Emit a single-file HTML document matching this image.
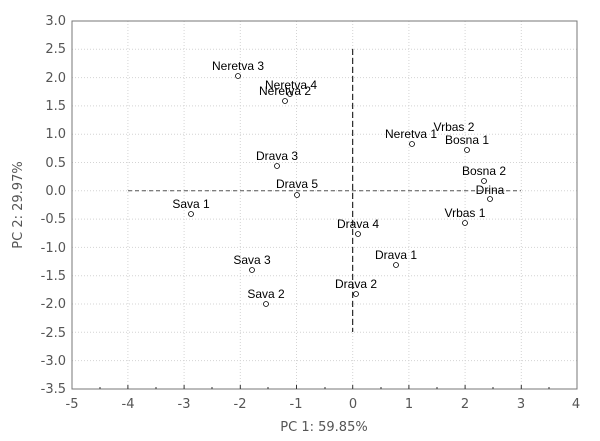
<!DOCTYPE html>
<html><head><meta charset="utf-8"><style>
body{margin:0;background:#fff}
svg{display:block}
.t{font-family:"DejaVu Sans","Liberation Sans",sans-serif;font-size:13px;fill:#555}
.l{font-family:"Liberation Sans",sans-serif;font-size:12px;fill:#000;text-anchor:middle}
</style></head><body>
<svg width="600" height="441" viewBox="0 0 600 441" xmlns="http://www.w3.org/2000/svg">
<g stroke="#d4d4d4" stroke-width="1" stroke-dasharray="1,2">
<line x1="127.9" y1="21" x2="127.9" y2="389"/><line x1="184.1" y1="21" x2="184.1" y2="389"/><line x1="240.3" y1="21" x2="240.3" y2="389"/><line x1="296.5" y1="21" x2="296.5" y2="389"/><line x1="352.7" y1="21" x2="352.7" y2="389"/><line x1="408.9" y1="21" x2="408.9" y2="389"/><line x1="465.1" y1="21" x2="465.1" y2="389"/><line x1="521.3" y1="21" x2="521.3" y2="389"/>
<line x1="72" y1="49.3" x2="577" y2="49.3"/><line x1="72" y1="77.6" x2="577" y2="77.6"/><line x1="72" y1="105.9" x2="577" y2="105.9"/><line x1="72" y1="134.2" x2="577" y2="134.2"/><line x1="72" y1="162.5" x2="577" y2="162.5"/><line x1="72" y1="190.8" x2="577" y2="190.8"/><line x1="72" y1="219.1" x2="577" y2="219.1"/><line x1="72" y1="247.4" x2="577" y2="247.4"/><line x1="72" y1="275.7" x2="577" y2="275.7"/><line x1="72" y1="304" x2="577" y2="304"/><line x1="72" y1="332.3" x2="577" y2="332.3"/><line x1="72" y1="360.6" x2="577" y2="360.6"/>
</g>
<rect x="72" y="21" width="505" height="368" fill="none" stroke="#777" stroke-width="1"/>
<g stroke="#333" stroke-width="1">
<line x1="127.9" y1="389" x2="127.9" y2="385"/><line x1="184.1" y1="389" x2="184.1" y2="385"/><line x1="240.3" y1="389" x2="240.3" y2="385"/><line x1="296.5" y1="389" x2="296.5" y2="385"/><line x1="352.7" y1="389" x2="352.7" y2="385"/><line x1="408.9" y1="389" x2="408.9" y2="385"/><line x1="465.1" y1="389" x2="465.1" y2="385"/><line x1="521.3" y1="389" x2="521.3" y2="385"/>
<line x1="100" y1="389" x2="100" y2="387"/><line x1="156" y1="389" x2="156" y2="387"/><line x1="212" y1="389" x2="212" y2="387"/><line x1="268" y1="389" x2="268" y2="387"/><line x1="325" y1="389" x2="325" y2="387"/><line x1="381" y1="389" x2="381" y2="387"/><line x1="437" y1="389" x2="437" y2="387"/><line x1="493" y1="389" x2="493" y2="387"/><line x1="549" y1="389" x2="549" y2="387"/>
</g>
<line x1="128" y1="190.8" x2="521" y2="190.8" stroke="#555" stroke-dasharray="4,3"/>
<line x1="352.7" y1="49" x2="352.7" y2="332" stroke="#000" stroke-dasharray="6,3"/>
<g class="t" text-anchor="end">
<text x="66" y="25">3.0</text><text x="66" y="53">2.5</text><text x="66" y="82">2.0</text><text x="66" y="110">1.5</text><text x="66" y="138">1.0</text><text x="66" y="167">0.5</text><text x="66" y="195">0.0</text><text x="66" y="223">-0.5</text><text x="66" y="252">-1.0</text><text x="66" y="280">-1.5</text><text x="66" y="308">-2.0</text><text x="66" y="337">-2.5</text><text x="66" y="365">-3.0</text><text x="66" y="393">-3.5</text>
</g>
<g class="t" text-anchor="middle">
<text x="72" y="408">-5</text><text x="128" y="408">-4</text><text x="184" y="408">-3</text><text x="240" y="408">-2</text><text x="296" y="408">-1</text><text x="353" y="408">0</text><text x="409" y="408">1</text><text x="465" y="408">2</text><text x="521" y="408">3</text><text x="576" y="408">4</text>
<text x="324" y="431">PC 1: 59.85%</text>
<text transform="translate(22,205) rotate(-90)">PC 2: 29.97%</text>
</g>
<g fill="#fff" stroke="#000" stroke-width="0.8">
<circle cx="238" cy="76" r="2.5"/><circle cx="290" cy="94" r="2.5"/><circle cx="285" cy="101" r="2.5"/><circle cx="277" cy="166" r="2.5"/><circle cx="297" cy="195" r="2.5"/><circle cx="191" cy="214" r="2.5"/><circle cx="252" cy="270" r="2.5"/><circle cx="266" cy="304" r="2.5"/><circle cx="358" cy="234" r="2.5"/><circle cx="356" cy="294" r="2.5"/><circle cx="396" cy="265" r="2.5"/><circle cx="412" cy="144" r="2.5"/><circle cx="467" cy="150" r="2.5"/><circle cx="484" cy="181" r="2.5"/><circle cx="490" cy="199" r="2.5"/><circle cx="465" cy="223" r="2.5"/>
</g>
<g class="l">
<text x="238" y="70">Neretva 3</text><text x="291" y="89">Neretva 4</text><text x="285" y="95">Neretva 2</text><text x="277" y="160">Drava 3</text><text x="297" y="188">Drava 5</text><text x="191" y="208">Sava 1</text><text x="252" y="264">Sava 3</text><text x="266" y="298">Sava 2</text><text x="358" y="228">Drava 4</text><text x="356" y="288">Drava 2</text><text x="396" y="259">Drava 1</text><text x="411" y="138">Neretva 1</text><text x="454" y="131">Vrbas 2</text><text x="467" y="144">Bosna 1</text><text x="484" y="175">Bosna 2</text><text x="490" y="194">Drina</text><text x="465" y="217">Vrbas 1</text>
</g>
</svg>
</body></html>
